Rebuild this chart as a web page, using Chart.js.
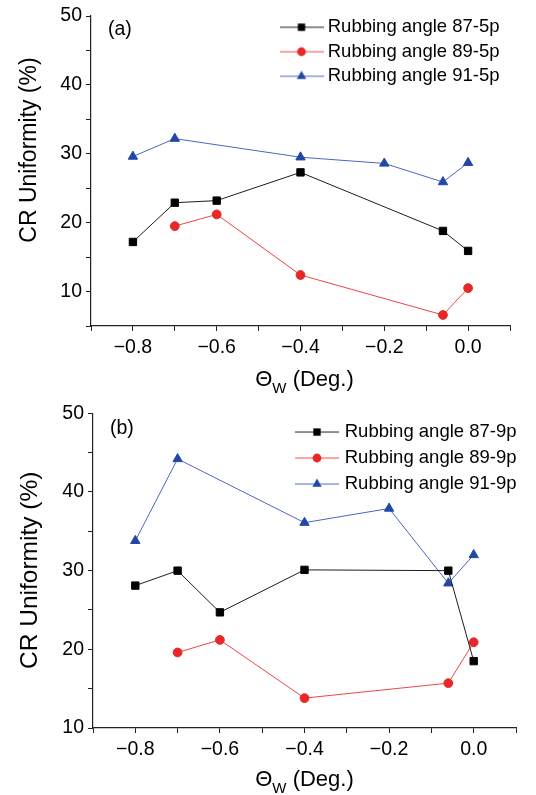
<!DOCTYPE html>
<html>
<head>
<meta charset="utf-8">
<script src="https://cdn.jsdelivr.net/npm/chart.js@4.4.1/dist/chart.umd.min.js"></script>
<style>
  html, body { margin: 0; padding: 0; background: #fff; }
  #wrap { position: relative; width: 536px; height: 795px; overflow: hidden; }
  #chart-a { position: absolute; left: 0; top: 0; }
  #chart-b { position: absolute; left: 0; top: 396px; }
</style>
</head>
<body>
<div id="wrap">
  <canvas id="chart-a" width="536" height="402"></canvas>
  <canvas id="chart-b" width="536" height="399"></canvas>
</div>
<script>
// ---- data ----
const seriesA = ['Rubbing angle 87-5p', 'Rubbing angle 89-5p', 'Rubbing angle 91-5p'];
const seriesB = ['Rubbing angle 87-9p', 'Rubbing angle 89-9p', 'Rubbing angle 91-9p'];

// panel (a)
const thetaA87 = [-0.8, -0.7, -0.6, -0.4, -0.06, 0.0];
const cruA87 = [17.2, 22.9, 23.2, 27.3, 18.8, 15.9];
const thetaA89 = [-0.7, -0.6, -0.4, -0.06, 0.0];
const cruA89 = [19.5, 21.2, 12.4, 6.6, 10.5];
const thetaA91 = [-0.8, -0.7, -0.4, -0.2, -0.06, 0.0];
const cruA91 = [29.6, 32.2, 29.5, 28.6, 25.9, 28.7];

// panel (b)
const thetaB87 = [-0.8, -0.7, -0.6, -0.4, -0.06, 0.0];
const cruB87 = [28.1, 30.0, 24.7, 30.1, 30.0, 18.5];
const thetaB89 = [-0.7, -0.6, -0.4, -0.06, 0.0];
const cruB89 = [19.6, 21.2, 13.8, 15.7, 20.9];
const thetaB91 = [-0.8, -0.7, -0.4, -0.2, -0.06, 0.0];
const cruB91 = [33.8, 44.2, 36.1, 37.9, 28.4, 32.0];

const xTickLabels = [-0.8, -0.6, -0.4, -0.2, 0.0];
const yTickLabels = [10, 20, 30, 40, 50];

// ---- styles ----
const FONT = "'Liberation Sans', Arial, Helvetica, sans-serif";
Chart.defaults.font.family = FONT;
Chart.defaults.color = '#000';

const lineColors = ['#1c1c1c', '#f04444', '#4866c4'];
const markColors = ['#000000', '#e82828', '#2347a6'];
const markStyles = ['rect', 'circle', 'triangle'];
const markRadius = [5.2, 4.4, 5.4];

function pts(xs, ys) {
  return xs.map((x, i) => ({ x: x, y: ys[i] }));
}

// legend symbol: short line with the marker in the middle
function legendIcon(i) {
  const c = document.createElement('canvas');
  c.width = 44; c.height = 14;
  const g = c.getContext('2d');
  g.strokeStyle = lineColors[i];
  g.lineWidth = 1;
  g.beginPath(); g.moveTo(0, 7); g.lineTo(44, 7); g.stroke();
  g.fillStyle = markColors[i];
  const r = markRadius[i];
  g.beginPath();
  if (markStyles[i] === 'rect') {
    const s = r * Math.SQRT1_2;
    g.rect(22 - s, 7 - s, 2 * s, 2 * s);
  } else if (markStyles[i] === 'circle') {
    g.arc(22, 7, r, 0, Math.PI * 2);
  } else {
    g.moveTo(22, 7 - r);
    g.lineTo(22 + r * 0.866, 7 + r / 2);
    g.lineTo(22 - r * 0.866, 7 + r / 2);
    g.closePath();
  }
  g.fill();
  return c;
}
const icons = [0, 1, 2].map(legendIcon);

// titles, panel tag and legend placement inside the plot
const decor = {
  id: 'decor',
  afterLayout(chart, args, o) {
    const lg = chart.legend, ca = chart.chartArea;
    const pad = lg.options.labels.padding;
    lg.left = ca.left + o.legendX - pad;
    lg.right = lg.left + lg.width;
    lg.top = ca.top + o.legendY - pad;
    lg.bottom = ca.bottom;
  },
  afterDraw(chart, args, o) {
    const ctx = chart.ctx, ca = chart.chartArea;
    ctx.save();
    ctx.fillStyle = '#000';
    ctx.textBaseline = 'middle';

    ctx.font = o.tagSize + 'px ' + FONT;
    ctx.textAlign = 'left';
    ctx.fillText(o.tag, ca.left + o.tagX, ca.top + o.tagY);

    ctx.save();
    ctx.translate(o.yTitleX, ca.top + o.yTitleY);
    ctx.rotate(-Math.PI / 2);
    ctx.font = o.yTitleSize + 'px ' + FONT;
    ctx.textAlign = 'center';
    ctx.fillText('CR Uniformity (%)', 0, 0);
    ctx.restore();

    const f = o.xTitleSize, fs = Math.round(f * 0.7);
    ctx.textAlign = 'left';
    ctx.font = f + 'px ' + FONT;
    const w1 = ctx.measureText('\u0398').width;
    const w3 = ctx.measureText(' (Deg.)').width;
    ctx.font = fs + 'px ' + FONT;
    const w2 = ctx.measureText('W').width;
    let x = (ca.left + ca.right) / 2 + o.xTitleDX - (w1 + w2 + w3) / 2;
    const y = ca.bottom + o.xTitleY;
    ctx.font = f + 'px ' + FONT;
    ctx.fillText('\u0398', x, y);
    x += w1;
    ctx.font = fs + 'px ' + FONT;
    ctx.fillText('W', x, y + f * 0.42);
    x += w2;
    ctx.font = f + 'px ' + FONT;
    ctx.fillText(' (Deg.)', x, y);
    ctx.restore();
  }
};

function makeChart(id, names, xs, ys, yMin, geo) {
  const datasets = names.map((name, i) => ({
    label: name,
    data: pts(xs[i], ys[i]),
    showLine: true,
    borderColor: lineColors[i],
    borderWidth: 1,
    pointStyle: markStyles[i],
    pointRadius: markRadius[i],
    pointBackgroundColor: markColors[i],
    pointBorderColor: markColors[i],
    pointBorderWidth: 1,
    fill: false
  }));

  return new Chart(document.getElementById(id).getContext('2d'), {
    type: 'scatter',
    data: { datasets: datasets },
    options: {
      responsive: false,
      animation: false,
      devicePixelRatio: 1,
      layout: { padding: { top: geo.top, right: geo.right, left: 0, bottom: 0 } },
      plugins: {
        tooltip: { enabled: false },
        legend: {
          position: 'chartArea',
          align: 'start',
          labels: {
            usePointStyle: true,
            pointStyleWidth: geo.boxW,
            padding: geo.legendPad,
            color: '#000',
            font: { size: 18.5 },
            generateLabels(chart) {
              const items = Chart.defaults.plugins.legend.labels.generateLabels(chart);
              items.forEach((it, i) => { it.pointStyle = icons[i]; });
              return items;
            }
          }
        },
        decor: geo.decor
      },
      scales: {
        x: {
          type: 'linear',
          min: -0.9,
          max: 0.1,
          afterFit(s) { s.height = geo.xAxisH; },
          ticks: {
            stepSize: 0.1,
            autoSkip: false,
            maxRotation: 0,
            padding: 5,
            font: { size: 19.5 },
            color: '#000',
            callback(v) {
              const r = Math.round(v * 10) / 10;
              if (!xTickLabels.some(t => Math.abs(t - r) < 1e-6)) return '';
              return (r < 0 ? '\u2212' : '') + Math.abs(r).toFixed(1);
            }
          },
          grid: { display: true, drawOnChartArea: false, drawTicks: true, tickLength: 5, color: '#222' },
          border: { display: true, color: '#222', width: 1.2 }
        },
        y: {
          type: 'linear',
          min: yMin,
          max: 50,
          afterFit(s) { s.width = geo.yAxisW; },
          ticks: {
            stepSize: 5,
            autoSkip: false,
            padding: 4,
            font: { size: 19.5 },
            color: '#000',
            callback(v) {
              return yTickLabels.includes(v) ? String(v) : '';
            }
          },
          grid: { display: true, drawOnChartArea: false, drawTicks: true, tickLength: 5, color: '#222' },
          border: { display: true, color: '#222', width: 1.2 }
        }
      }
    },
    plugins: [decor]
  });
}

makeChart('chart-a', seriesA,
  [thetaA87, thetaA89, thetaA91], [cruA87, cruA89, cruA91], 5,
  {
    top: 16, right: 26, yAxisW: 91, xAxisH: 76, boxW: 34, legendPad: 6,
    decor: {
      tag: '(a)', tagSize: 19.5, tagX: 17, tagY: 14,
      legendX: 193.5, legendY: 2,
      yTitleX: 30, yTitleY: 134, yTitleSize: 23,
      xTitleSize: 22, xTitleY: 54, xTitleDX: 4
    }
  });

makeChart('chart-b', seriesB,
  [thetaB87, thetaB89, thetaB91], [cruB87, cruB89, cruB91], 10,
  {
    top: 17.3, right: 20, yAxisW: 93, xAxisH: 67, boxW: 37, legendPad: 7.5,
    decor: {
      tag: '(b)', tagSize: 19.5, tagX: 17, tagY: 15,
      legendX: 205.5, legendY: 9.5,
      yTitleX: 30, yTitleY: 157, yTitleSize: 24.5,
      xTitleSize: 22, xTitleY: 51.5, xTitleDX: 0
    }
  });
</script>
</body>
</html>
